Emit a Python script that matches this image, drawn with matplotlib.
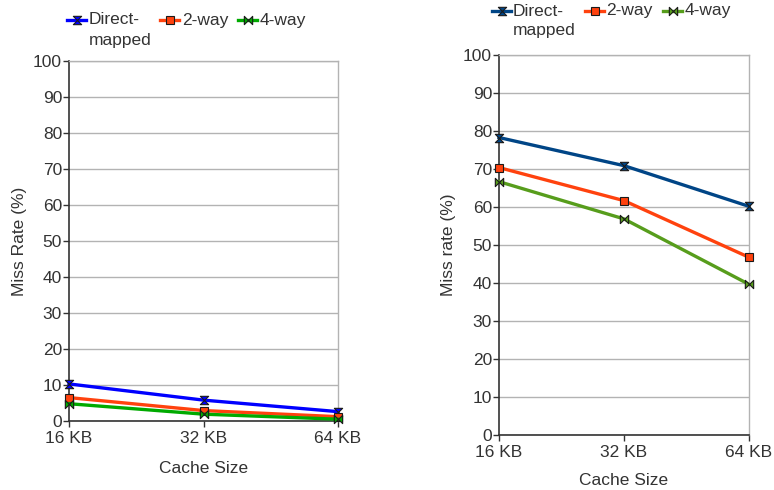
import matplotlib
matplotlib.use("Agg")
import matplotlib.pyplot as plt
from matplotlib.path import Path
from matplotlib.lines import Line2D

plt.rcParams['font.family'] = ['Liberation Sans', 'DejaVu Sans']

categories = ["16 KB", "32 KB", "64 KB"]
series_names = ["Direct-\nmapped", "2-way", "4-way"]

left_direct = [10.3, 5.8, 2.6]
left_2way = [6.5, 2.9, 1.2]
left_4way = [4.8, 1.9, 0.5]

right_direct = [78.3, 70.9, 60.2]
right_2way = [70.4, 61.7, 46.8]
right_4way = [66.7, 56.9, 39.7]

left_colors = ["#0000FF", "#FF420E", "#00AA00"]
right_colors = ["#004586", "#FF420E", "#579D1C"]

hour_v = Path([(-1, 1), (1, 1), (-1, -1), (1, -1), (-1, 1)],
              [Path.MOVETO, Path.LINETO, Path.LINETO, Path.LINETO, Path.CLOSEPOLY])
hour_h = Path([(-1, 1), (1, -1), (1, 1), (-1, -1), (-1, 1)],
              [Path.MOVETO, Path.LINETO, Path.LINETO, Path.LINETO, Path.CLOSEPOLY])
markers = [hour_v, 's', hour_h]
msizes = [6, 6, 6]

FS = 12.5
TXT = '#333333'

fig = plt.figure(figsize=(7.74, 4.9), dpi=100)
W, H = 774, 490

def fx(px):
    return px / W

def fy(py):
    return 1 - py / H

def make_ax(x0, x1, ytop, ybot, data, colors, ylabel, ylab_x, xlab_y, leg_items, leg_y):
    ax = fig.add_axes([fx(x0), fy(ybot), (x1 - x0) / W, (ybot - ytop) / H])
    xs = list(range(len(categories)))
    for vals, c, m, ms, name in zip(data, colors, markers, msizes, series_names):
        ax.plot(xs, vals, color=c, lw=2.4, marker=m, markersize=ms,
                markerfacecolor=c, markeredgecolor='#1a1a1a', markeredgewidth=0.8,
                label=name, clip_on=False, zorder=3)
    ax.set_xlim(0, 2)
    ax.set_ylim(0, 100)
    ax.set_yticks(range(0, 101, 10))
    ax.set_xticks(xs)
    ax.set_xticklabels(categories)
    ax.grid(axis='y', color='#b3b3b3', lw=1)
    ax.set_axisbelow(True)
    for s in ['top', 'right']:
        ax.spines[s].set_color('#b3b3b3')
        ax.spines[s].set_linewidth(1)
    for s in ['left', 'bottom']:
        ax.spines[s].set_color('#333333')
        ax.spines[s].set_linewidth(1.2)
    ax.tick_params(axis='both', direction='out', length=4, width=1, color='#333333',
                   labelsize=FS, labelcolor=TXT, pad=1)
    ax.tick_params(axis='x', pad=3)
    fig.text(fx(ylab_x), fy((ytop + ybot) / 2), ylabel, rotation=90,
             ha='center', va='center', fontsize=FS, color=TXT)
    fig.text(fx((x0 + x1) / 2), fy(xlab_y), "Cache Size", ha='center',
             va='center', fontsize=FS, color=TXT)
    # legend (manual layout, first line aligned across entries)
    for (hx, tx), c, m, ms, name in zip(leg_items, colors, markers, msizes, series_names):
        line = Line2D([fx(hx), fx(hx + 9.5), fx(hx + 19)], [fy(leg_y)] * 3,
                      transform=fig.transFigure, color=c, lw=2.4, marker=m,
                      markersize=ms, markevery=[1], markerfacecolor=c,
                      markeredgecolor='#1a1a1a', markeredgewidth=0.8)
        fig.add_artist(line)
        lines = name.split("\n")
        for i, ln in enumerate(lines):
            fig.text(fx(tx), fy(leg_y + 20 * i), ln, ha='left', va='center',
                     fontsize=FS, color=TXT)
    return ax

make_ax(69, 338, 61, 421, [left_direct, left_2way, left_4way], left_colors,
        "Miss Rate (%)", 20, 468, [(67, 89), (160, 182), (238, 260)], 20)
make_ax(499, 749, 55, 435.3, [right_direct, right_2way, right_4way], right_colors,
        "Miss rate (%)", 449, 480, [(492, 513), (585, 606), (663, 685)], 11)

fig.savefig("out.png", dpi=100)
